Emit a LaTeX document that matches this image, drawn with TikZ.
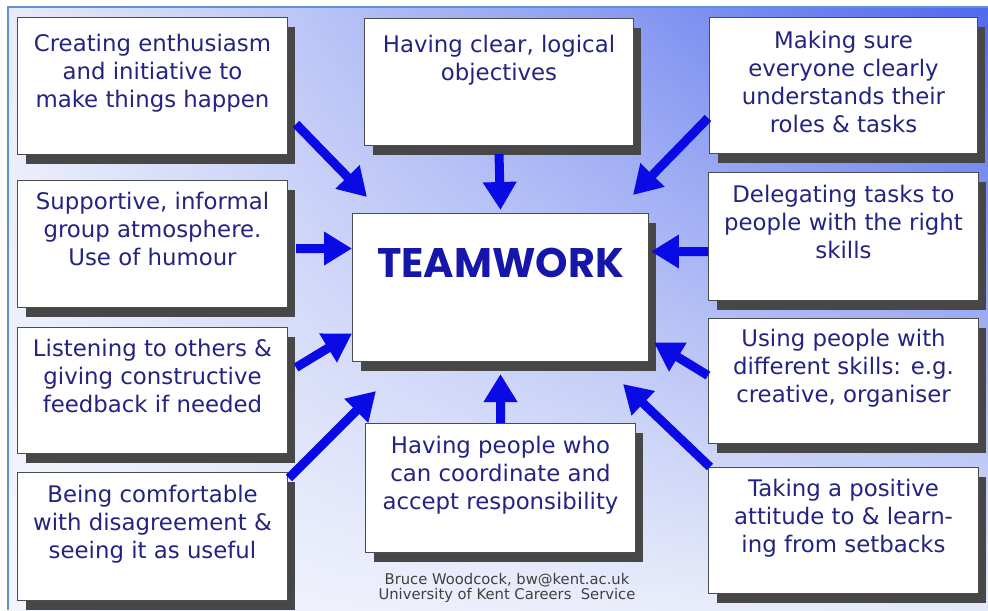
\documentclass[tikz,border=0pt]{standalone}
\usepackage{fontspec}
\usepackage{xcolor}
\usetikzlibrary{shadows,shadings,arrows.meta}
\newfontfamily\cardfont{DejaVu Sans}
\newfontfamily\titlefont{Poppins}
\definecolor{cardtext}{RGB}{35,35,130}
\definecolor{titleblue}{RGB}{22,22,170}
\definecolor{arrowblue}{RGB}{10,10,228}
\definecolor{framecol}{RGB}{95,145,215}
\definecolor{bgul}{RGB}{232,236,251}
\definecolor{bgur}{RGB}{80,105,236}
\definecolor{bgll}{RGB}{244,245,252}
\definecolor{bglr}{RGB}{228,233,249}

\begin{document}
\begin{tikzpicture}[x=0.02cm,y=-0.02cm,
  card/.style={draw=black!70,line width=0.6pt,fill=white,anchor=north west,inner sep=0pt,align=center,
    minimum width=5.4cm,text depth=0.6cm,text=cardtext,font=\cardfont\fontsize{13}{15.9}\selectfont,
    drop shadow={shadow xshift=0.16cm,shadow yshift=-0.19cm,fill=black!72,opacity=1}},
  push/.style={line width=0.18cm,draw=arrowblue,-{Triangle[length=0.56cm,width=0.64cm]}}]

  \useasboundingbox (0,0) rectangle (988,610);
  \shade[upper left=bgul,upper right=bgur,lower left=bgll,lower right=bglr] (8,7) rectangle (988,610);
  \draw[framecol,line width=0.6pt] (988,7) -- (8,7) -- (8,610);

  \node at (17,17) [card,minimum height=2.74cm] (enth) {Creating enthusiasm\\and initiative to\\make things happen};
  \node at (17,180) [card,minimum height=2.54cm] (supp) {Supportive, informal\\group atmosphere.\\Use of humour};
  \node at (17,327) [card,minimum height=2.52cm] (list) {Listening to others \&\\giving constructive\\feedback if needed};
  \node at (17,472) [card,minimum height=2.56cm] (comf) {Being comfortable\\with disagreement \&\\seeing it as useful};

  \node at (364,18) [card,minimum width=5.38cm,minimum height=2.54cm,text depth=0.95cm] (clear) {Having clear, logical\\objectives};
  \node at (352,213) [card,minimum width=5.92cm,minimum height=2.96cm,text depth=1cm,text=titleblue,
    font=\titlefont\bfseries\fontsize{23.5}{25}\selectfont] (team) {TEAMWORK};
  \node at (365,423) [card,minimum height=2.58cm] (coord) {Having people who\\can coordinate and\\accept responsibility};

  \node at (709,17) [card,minimum width=5.36cm,minimum height=2.72cm,text depth=0.15cm] (roles) {Making sure\\everyone clearly\\understands their\\roles \& tasks};
  \node at (708,172) [card,minimum height=2.56cm] (deleg) {Delegating tasks to\\people with the right\\skills};
  \node at (708,318) [card,minimum height=2.5cm] (skills) {Using people with\\different skills: e.g.\\creative, organiser};
  \node at (708,467) [card,minimum height=2.52cm] (setb) {Taking a positive\\attitude to \& learn-\\ing from setbacks};

  \node at (507,588) [font=\cardfont\fontsize{8.4}{8.6}\selectfont,text=black!75,align=center] (credit)
    {Bruce Woodcock, bw@kent.ac.uk\\University of Kent Careers~~Service};

  \draw[push] ([shift={(8,-31)}]enth.south east) -- ([shift={(15,-16)}]team.north west);
  \draw[push] ([yshift=-0.16cm]clear.south) -- ([yshift=0.06cm]team.north);
  \draw[push] ([shift={(-1,-36)}]roles.south west) -- ([shift={(-16,-18)}]team.north east);
  \draw[push] ([shift={(8,4.5)}]supp.east) -- ([shift={(0,-39)}]team.west);
  \draw[push] ([shift={(0,15)}]deleg.west) -- ([shift={(2,-36)}]team.east);
  \draw[push] ([shift={(8,-23)}]list.east) -- ([shift={(0,46)}]team.west);
  \draw[push] ([shift={(0,-5.5)}]skills.west) -- ([shift={(5,55)}]team.east);
  \draw[push] ([shift={(1,6)}]comf.north east) -- ([shift={(24,29)}]team.south west);
  \draw[push] (coord.north) -- ([shift={(0,12)}]team.south);
  \draw[push] ([shift={(2,0)}]setb.north west) -- ([shift={(-26,22)}]team.south east);
\end{tikzpicture}
\end{document}
